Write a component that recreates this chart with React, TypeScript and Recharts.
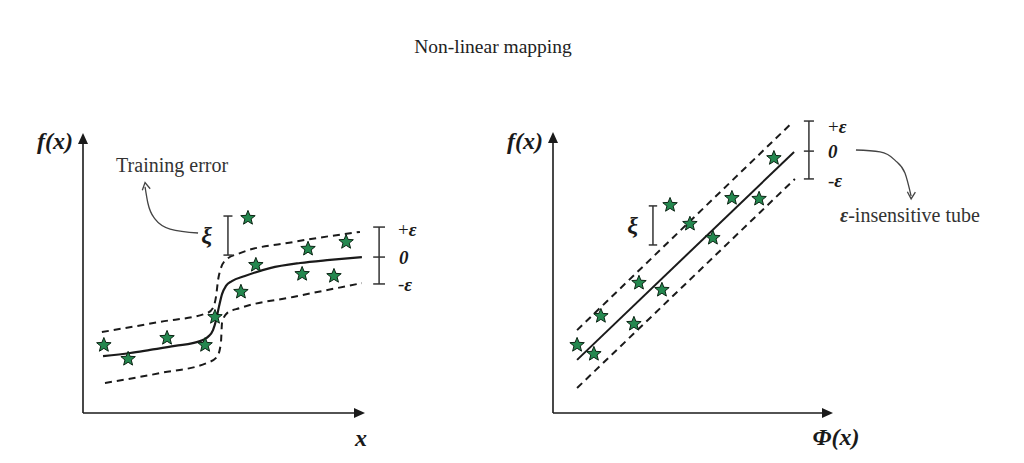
import React from 'react';
import { ComposedChart, Line, Scatter, XAxis, YAxis, ReferenceLine, ReferenceDot } from 'recharts';

// ---------- Left panel (input space, x) ----------
const leftFit = [
  { x: 7.1, y: 20.1 }, { x: 16.7, y: 21.2 }, { x: 23.8, y: 22.3 }, { x: 32.6, y: 23.7 },
  { x: 41.5, y: 25.4 }, { x: 44.3, y: 26.9 }, { x: 46.1, y: 29.3 }, { x: 47.2, y: 32.9 },
  { x: 48.2, y: 37.5 }, { x: 49.3, y: 42.0 }, { x: 50.7, y: 44.9 }, { x: 52.8, y: 46.6 },
  { x: 57.4, y: 48.4 }, { x: 66.3, y: 51.2 }, { x: 77.0, y: 53.0 }, { x: 87.6, y: 54.1 },
  { x: 98.9, y: 55.1 },
];
const leftUpper = [
  { x: 6.7, y: 28.6 }, { x: 27.3, y: 32.2 }, { x: 44.0, y: 35.3 }, { x: 46.1, y: 37.1 },
  { x: 47.2, y: 41.3 }, { x: 47.9, y: 47.0 }, { x: 48.9, y: 51.2 }, { x: 50.7, y: 54.1 },
  { x: 55.7, y: 56.5 }, { x: 74.5, y: 60.4 }, { x: 98.2, y: 64.0 },
];
const leftLower = [
  { x: 7.8, y: 10.6 }, { x: 27.3, y: 14.1 }, { x: 44.0, y: 17.7 }, { x: 47.5, y: 19.8 },
  { x: 48.9, y: 24.7 }, { x: 49.3, y: 31.8 }, { x: 51.1, y: 35.3 }, { x: 55.7, y: 37.1 },
  { x: 74.5, y: 41.0 }, { x: 98.9, y: 45.9 },
];
const leftStars = [
  { x: 7.4, y: 24.0 }, { x: 16.0, y: 19.1 }, { x: 29.8, y: 26.5 }, { x: 43.3, y: 24.0 },
  { x: 46.8, y: 33.9 }, { x: 56.0, y: 42.8 }, { x: 61.3, y: 52.3 }, { x: 58.5, y: 68.9 },
  { x: 77.7, y: 49.1 }, { x: 79.8, y: 58.0 }, { x: 89.0, y: 48.4 }, { x: 93.3, y: 60.4 },
];
const leftArrow = [
  { x: 22.0, y: 79.9 }, { x: 23.0, y: 74.2 }, { x: 25.5, y: 68.6 }, { x: 30.9, y: 65.0 }, { x: 40.8, y: 63.6 },
];
const leftEps = { x: 105.0, top: 65.7, mid: 55.1, bottom: 45.6, half: 2.1 };
const leftXi = { x: 51.4, top: 69.6, bottom: 55.8, half: 1.6 };

// ---------- Right panel (feature space, Φ(x)) ----------
const rightFit = [{ x: 8.6, y: 18.9 }, { x: 86.1, y: 92.9 }];
const rightUpper = [{ x: 8.6, y: 29.5 }, { x: 85.7, y: 103.6 }];
const rightLower = [{ x: 8.6, y: 8.9 }, { x: 86.4, y: 83.3 }];
const rightStars = [
  { x: 8.6, y: 24.2 }, { x: 14.6, y: 21.0 }, { x: 17.1, y: 34.5 }, { x: 28.9, y: 31.7 },
  { x: 30.7, y: 46.3 }, { x: 38.9, y: 43.8 }, { x: 41.8, y: 74.0 }, { x: 48.9, y: 67.3 },
  { x: 57.1, y: 62.3 }, { x: 63.9, y: 76.5 }, { x: 73.6, y: 76.2 }, { x: 78.9, y: 90.7 },
];
const rightArrow = [
  { x: 108.2, y: 93.6 }, { x: 116.8, y: 92.9 }, { x: 122.1, y: 90.0 }, { x: 125.7, y: 85.4 }, { x: 127.9, y: 77.2 },
];
const rightEps = { x: 91.4, top: 103.9, mid: 93.2, bottom: 83.3, half: 1.8 };
const rightXi = { x: 35.7, top: 73.7, bottom: 59.8, half: 1.5 };

const TITLE = 'Non-linear mapping';

const SERIF = '"Liberation Serif", "DejaVu Serif", serif';
const INK = '#1a1a1a';

const Star = (props: any) => {
  const { cx, cy } = props;
  if (cx == null || cy == null) return null;
  const R = 7.6;
  const r = 3.3;
  const pts: string[] = [];
  for (let i = 0; i < 10; i++) {
    const a = -Math.PI / 2 + (i * Math.PI) / 5;
    const rad = i % 2 === 0 ? R : r;
    pts.push(`${(cx + rad * Math.cos(a)).toFixed(2)},${(cy + rad * Math.sin(a)).toFixed(2)}`);
  }
  return <polygon points={pts.join(' ')} fill="#24884f" stroke="#0c2414" strokeWidth={1} />;
};

const textShape = (content: React.ReactNode, opts: any = {}) => (props: any) => (
  <text
    x={props.cx}
    y={props.cy}
    fontFamily={SERIF}
    fontSize={opts.size || 18}
    fontStyle={opts.italic ? 'italic' : 'normal'}
    fontWeight={opts.bold ? 'bold' : 'normal'}
    textAnchor={opts.anchor || 'start'}
    dominantBaseline="central"
    fill={opts.fill || INK}
  >
    {content}
  </text>
);

const triUp = (props: any) => (
  <polygon points={`${props.cx},${props.cy} ${props.cx - 5},${props.cy + 11} ${props.cx + 5},${props.cy + 11}`} fill={INK} />
);
const triRight = (props: any) => (
  <polygon points={`${props.cx},${props.cy} ${props.cx - 11},${props.cy - 5} ${props.cx - 11},${props.cy + 5}`} fill={INK} />
);
const vHead = (angleDeg: number) => (props: any) => {
  const { cx, cy } = props;
  const L = 8;
  const a1 = ((angleDeg + 150) * Math.PI) / 180;
  const a2 = ((angleDeg - 150) * Math.PI) / 180;
  return (
    <path
      d={`M${cx + L * Math.cos(a1)},${cy + L * Math.sin(a1)} L${cx},${cy} L${cx + L * Math.cos(a2)},${cy + L * Math.sin(a2)}`}
      fill="none"
      stroke="#444"
      strokeWidth={1.3}
    />
  );
};

const eps = (e: any) => (
  <tspan fontStyle="italic" fontWeight="bold">{e}</tspan>
);

const bracket = (b: any, key: string, mid?: number) => {
  const els = [
    <ReferenceLine key={key + 'v'} segment={[{ x: b.x, y: b.bottom }, { x: b.x, y: b.top }]} stroke="#333" strokeWidth={1.5} ifOverflow="visible" />,
    <ReferenceLine key={key + 't'} segment={[{ x: b.x - b.half, y: b.top }, { x: b.x + b.half, y: b.top }]} stroke="#333" strokeWidth={1.5} ifOverflow="visible" />,
    <ReferenceLine key={key + 'b'} segment={[{ x: b.x - b.half, y: b.bottom }, { x: b.x + b.half, y: b.bottom }]} stroke="#333" strokeWidth={1.5} ifOverflow="visible" />,
  ];
  if (mid != null) {
    els.push(
      <ReferenceLine key={key + 'm'} segment={[{ x: b.x - b.half, y: mid }, { x: b.x + b.half, y: mid }]} stroke="#333" strokeWidth={1.5} ifOverflow="visible" />
    );
  }
  return els;
};

function LeftPanel() {
  return (
    <ComposedChart width={462} height={463} margin={{ top: 101.7, left: 83, right: -15.8, bottom: 50 }}>
      <XAxis type="number" dataKey="x" domain={[0, 140]} hide allowDataOverflow />
      <YAxis type="number" dataKey="y" domain={[0, 110]} hide allowDataOverflow />
      <ReferenceLine segment={[{ x: 0, y: 0 }, { x: 98, y: 0 }]} stroke={INK} strokeWidth={1.6} ifOverflow="visible" />
      <ReferenceLine segment={[{ x: 0, y: 0 }, { x: 0, y: 96 }]} stroke={INK} strokeWidth={1.6} ifOverflow="visible" />
      <ReferenceDot x={100} y={0} ifOverflow="visible" shape={triRight} />
      <ReferenceDot x={0} y={98.9} ifOverflow="visible" shape={triUp} />
      <Line data={leftUpper} dataKey="y" type="monotone" stroke={INK} strokeWidth={2} strokeDasharray="7 5" dot={false} isAnimationActive={false} />
      <Line data={leftLower} dataKey="y" type="monotone" stroke={INK} strokeWidth={2} strokeDasharray="7 5" dot={false} isAnimationActive={false} />
      <Line data={leftFit} dataKey="y" type="monotone" stroke={INK} strokeWidth={2.2} dot={false} isAnimationActive={false} />
      <Line data={leftArrow} dataKey="y" type="monotone" stroke="#444" strokeWidth={1.3} dot={false} isAnimationActive={false} />
      <ReferenceDot x={leftArrow[0].x} y={leftArrow[0].y + 1.5} ifOverflow="visible" shape={vHead(-100)} />
      {bracket(leftEps, 'le', leftEps.mid)}
      {bracket(leftXi, 'lx')}
      <Scatter data={leftStars} dataKey="y" shape={Star} isAnimationActive={false} />
      <ReferenceDot x={-9.9} y={96.1} ifOverflow="visible" shape={textShape('f(x)', { bold: true, italic: true, anchor: 'middle', size: 24 })} />
      <ReferenceDot x={98.6} y={-8.8} ifOverflow="visible" shape={textShape('x', { bold: true, italic: true, anchor: 'middle', size: 24 })} />
      <ReferenceDot x={31.6} y={87.6} ifOverflow="visible" shape={textShape('Training error', { anchor: 'middle', size: 20, fill: '#333' })} />
      <ReferenceDot x={43.8} y={62.9} ifOverflow="visible" shape={textShape('ξ', { italic: true, bold: true, anchor: 'middle', size: 24 })} />
      <ReferenceDot x={111.7} y={65.0} ifOverflow="visible" shape={textShape(<>+{eps('ε')}</>, { size: 19 })} />
      <ReferenceDot x={112.1} y={55.1} ifOverflow="visible" shape={textShape('0', { italic: true, bold: true, size: 19 })} />
      <ReferenceDot x={111.7} y={45.6} ifOverflow="visible" shape={textShape(<>-{eps('ε')}</>, { size: 19 })} />
    </ComposedChart>
  );
}

function RightPanel() {
  return (
    <ComposedChart width={562} height={463} margin={{ top: 103.9, left: 91, right: 23, bottom: 50 }}>
      <XAxis type="number" dataKey="x" domain={[0, 160]} hide allowDataOverflow />
      <YAxis type="number" dataKey="y" domain={[0, 110]} hide allowDataOverflow />
      <ReferenceLine segment={[{ x: 0, y: 0 }, { x: 98, y: 0 }]} stroke={INK} strokeWidth={1.6} ifOverflow="visible" />
      <ReferenceLine segment={[{ x: 0, y: 0 }, { x: 0, y: 97 }]} stroke={INK} strokeWidth={1.6} ifOverflow="visible" />
      <ReferenceDot x={100} y={0} ifOverflow="visible" shape={triRight} />
      <ReferenceDot x={0} y={100} ifOverflow="visible" shape={triUp} />
      <Line data={rightUpper} dataKey="y" type="linear" stroke={INK} strokeWidth={2} strokeDasharray="7 5" dot={false} isAnimationActive={false} />
      <Line data={rightLower} dataKey="y" type="linear" stroke={INK} strokeWidth={2} strokeDasharray="7 5" dot={false} isAnimationActive={false} />
      <Line data={rightFit} dataKey="y" type="linear" stroke={INK} strokeWidth={2} dot={false} isAnimationActive={false} />
      <Line data={rightArrow} dataKey="y" type="monotone" stroke="#444" strokeWidth={1.3} dot={false} isAnimationActive={false} />
      <ReferenceDot x={rightArrow[4].x} y={rightArrow[4].y - 1} ifOverflow="visible" shape={vHead(92)} />
      {bracket(rightEps, 're', rightEps.mid)}
      {bracket(rightXi, 'rx')}
      <Scatter data={rightStars} dataKey="y" shape={Star} isAnimationActive={false} />
      <ReferenceDot x={-10} y={96.8} ifOverflow="visible" shape={textShape('f(x)', { bold: true, italic: true, anchor: 'middle', size: 24 })} />
      <ReferenceDot x={101.1} y={-8.5} ifOverflow="visible" shape={textShape('Φ(x)', { bold: true, italic: true, anchor: 'middle', size: 24 })} />
      <ReferenceDot x={28.4} y={66.9} ifOverflow="visible" shape={textShape('ξ', { italic: true, bold: true, anchor: 'middle', size: 24 })} />
      <ReferenceDot x={98.2} y={102.1} ifOverflow="visible" shape={textShape(<>+{eps('ε')}</>, { size: 19 })} />
      <ReferenceDot x={98.2} y={92.9} ifOverflow="visible" shape={textShape('0', { italic: true, bold: true, size: 19 })} />
      <ReferenceDot x={98.2} y={82.9} ifOverflow="visible" shape={textShape(<>-{eps('ε')}</>, { size: 19 })} />
      <ReferenceDot x={102.5} y={70.5} ifOverflow="visible" shape={textShape(<>{eps('ε')}-insensitive tube</>, { size: 20, fill: '#333' })} />
    </ComposedChart>
  );
}

export default function App() {
  return (
    <div style={{ position: 'absolute', left: 0, top: 0, width: 1024, height: 463, background: '#fff', overflow: 'hidden' }}>
      <div style={{ position: 'absolute', left: 343, top: 36, width: 300, textAlign: 'center', fontFamily: SERIF, fontSize: 19.5, lineHeight: '22px', color: '#222' }}>
        {TITLE}
      </div>
      <div style={{ position: 'absolute', left: 0, top: 0 }}>
        <LeftPanel />
      </div>
      <div style={{ position: 'absolute', left: 462, top: 0 }}>
        <RightPanel />
      </div>
    </div>
  );
}
